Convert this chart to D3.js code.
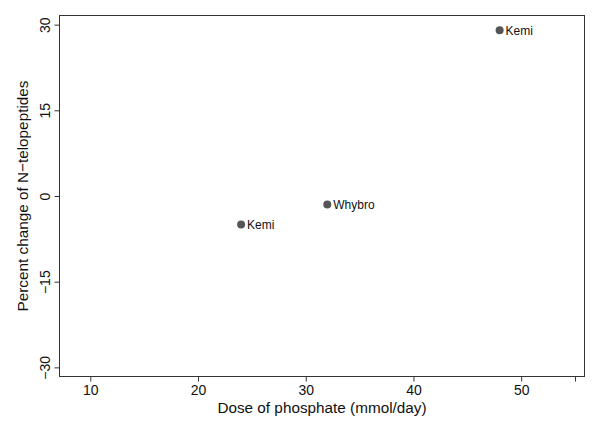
<!DOCTYPE html>
<html>
<head>
<meta charset="utf-8">
<script src="https://cdn.jsdelivr.net/npm/d3@7"></script>
<style>
  body { margin: 0; background: #fff; }
  svg text { font-family: "Liberation Sans", Arial, sans-serif; }
</style>
</head>
<body>
<div id="vis"></div>
<script>
// data
const studies = ["Kemi", "Whybro", "Kemi"];
const doses = [48, 32, 24];
const changes = [29, -1.5, -5];

const xTicks = [10, 20, 30, 40, 50, 55];
const xTickLabels = ["10", "20", "30", "40", "50", ""];
const yTicks = [30, 15, 0, -15, -30];
const yTickLabels = ["30", "15", "0", "\u221215", "\u221230"];

const W = 600, H = 436;
const frame = { left: 59.5, right: 584.5, top: 15.5, bottom: 376.5 };

const svg = d3.select("#vis").append("svg")
  .attr("width", W)
  .attr("height", H);

const x = d3.scaleLinear().domain([7.14, 55.88]).range([frame.left, frame.right]);
const y = d3.scaleLinear().domain([-31.6, 31.6]).range([frame.bottom, frame.top]);

const ink = "#333";

svg.append("rect")
  .attr("x", frame.left)
  .attr("y", frame.top)
  .attr("width", frame.right - frame.left)
  .attr("height", frame.bottom - frame.top)
  .attr("fill", "none")
  .attr("stroke", ink)
  .attr("stroke-width", 1);

// x axis
const xAxis = svg.append("g")
  .attr("transform", `translate(0,${frame.bottom})`)
  .call(d3.axisBottom(x).tickValues(xTicks).tickSize(5).tickPadding(4)
    .tickFormat((d, i) => xTickLabels[i]));
xAxis.select(".domain").remove();
xAxis.selectAll("line").attr("stroke", ink);
xAxis.selectAll("text").attr("font-size", 14).attr("fill", "#111")
  .attr("font-family", "Liberation Sans, Arial, sans-serif");

// y axis, labels rotated like Stata
const yAxis = svg.append("g")
  .attr("transform", `translate(${frame.left},0)`)
  .call(d3.axisLeft(y).tickValues(yTicks).tickSize(5).tickFormat((d, i) => yTickLabels[i]));
yAxis.select(".domain").remove();
yAxis.selectAll("line").attr("stroke", ink);
yAxis.selectAll("text")
  .attr("x", null).attr("dy", null)
  .attr("transform", "translate(-10,0) rotate(-90)")
  .attr("text-anchor", "middle")
  .attr("font-size", 14).attr("fill", "#111")
  .attr("font-family", "Liberation Sans, Arial, sans-serif");

// titles
svg.append("text")
  .attr("x", (frame.left + frame.right) / 2)
  .attr("y", 413)
  .attr("text-anchor", "middle")
  .attr("font-size", 15.3)
  .attr("fill", "#111")
  .text("Dose of phosphate (mmol/day)");

svg.append("text")
  .attr("transform", `translate(28,${(frame.top + frame.bottom) / 2}) rotate(-90)`)
  .attr("text-anchor", "middle")
  .attr("font-size", 15.3)
  .attr("fill", "#111")
  .text("Percent change of N\u2212telopeptides");

// points and labels
const pts = studies.map((s, i) => ({ name: s, dose: doses[i], change: changes[i] }));

svg.selectAll("circle.pt")
  .data(pts)
  .enter()
  .append("circle")
  .attr("class", "pt")
  .attr("cx", d => x(d.dose))
  .attr("cy", d => y(d.change))
  .attr("r", 4)
  .attr("fill", "#555");

svg.selectAll("text.lbl")
  .data(pts)
  .enter()
  .append("text")
  .attr("class", "lbl")
  .attr("x", d => x(d.dose) + 6)
  .attr("y", d => y(d.change) + 4.5)
  .attr("font-size", 12)
  .attr("fill", "#111")
  .text(d => d.name);
</script>
</body>
</html>
